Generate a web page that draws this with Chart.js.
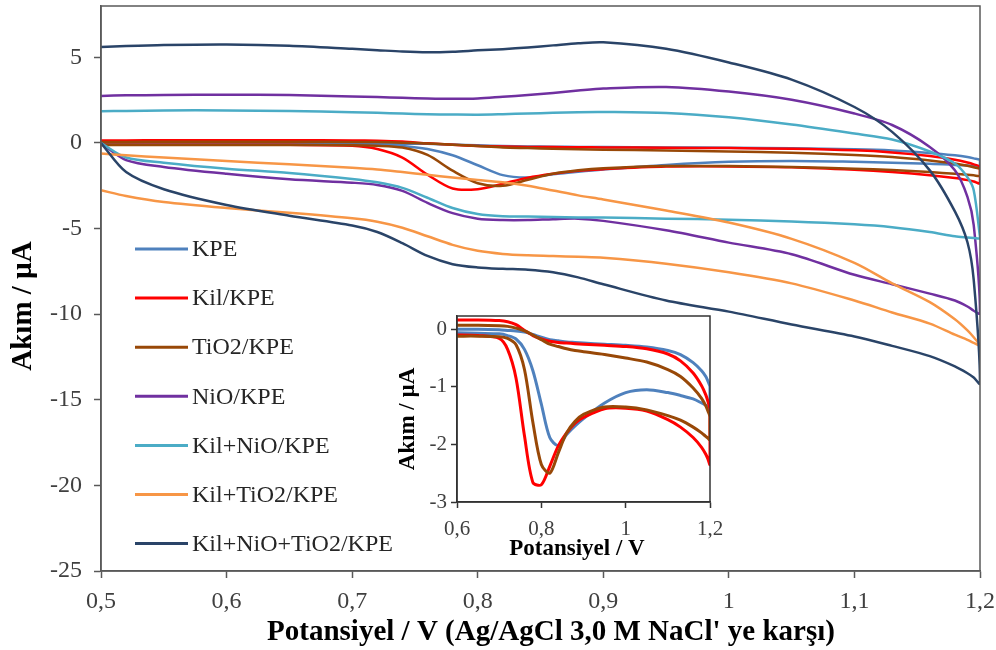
<!DOCTYPE html>
<html>
<head>
<meta charset="utf-8">
<script src="https://cdn.jsdelivr.net/npm/chart.js@4.4.1/dist/chart.umd.min.js"></script>
<style>
  html, body { margin: 0; padding: 0; background: #ffffff; }
  #wrap { position: relative; width: 996px; height: 650px; }
  #main { position: absolute; left: 0; top: 0; }
  #insetBox { position: absolute; left: 380px; top: 300px; width: 360px; height: 270px; }
</style>
</head>
<body>
<div id="wrap">
  <canvas id="main" width="996" height="650"></canvas>
  <div id="insetBox"><canvas id="inset" width="360" height="270"></canvas></div>
</div>
<script>
// ---- Data ----
const potential = [0.5, 0.52, 0.55, 0.6, 0.65, 0.7, 0.72, 0.74, 0.76, 0.78, 0.8, 0.82, 0.84, 0.86, 0.88, 0.9, 0.95, 1.0, 1.05, 1.1, 1.13, 1.16, 1.18, 1.19, 1.195, 1.2];

const seriesNames = ['KPE', 'Kil/KPE', 'TiO2/KPE', 'NiO/KPE', 'Kil+NiO/KPE', 'Kil+TiO2/KPE', 'Kil+NiO+TiO2/KPE'];

// forward (upper) and reverse (lower) branches, µA, on the potential grid
const kpeFwd   = [0.02, 0.02, 0.02, 0.0, 0.0, -0.01, -0.02, -0.03, -0.05, -0.09, -0.14, -0.18, -0.2, -0.22, -0.23, -0.24, -0.26, -0.28, -0.31, -0.37, -0.44, -0.58, -0.72, -0.82, -0.9, -1.0];
const kpeRev   = [-0.05, -0.05, -0.05, -0.06, -0.07, -0.08, -0.11, -0.17, -0.35, -0.72, -1.3, -1.88, -2.02, -1.83, -1.68, -1.55, -1.28, -1.1, -1.05, -1.1, -1.15, -1.21, -1.28, -1.32, -1.34, -1.37];

const kilFwd   = [0.15, 0.15, 0.16, 0.16, 0.16, 0.15, 0.13, 0.08, -0.02, -0.11, -0.17, -0.21, -0.23, -0.24, -0.25, -0.26, -0.28, -0.3, -0.34, -0.43, -0.55, -0.76, -0.98, -1.14, -1.25, -1.4];
const kilRev   = [-0.1, -0.1, -0.1, -0.1, -0.11, -0.16, -0.35, -0.85, -1.85, -2.66, -2.7, -2.38, -2.03, -1.8, -1.63, -1.53, -1.38, -1.37, -1.42, -1.57, -1.7, -1.88, -2.05, -2.17, -2.25, -2.35];

const tio2Fwd  = [0.06, 0.06, 0.07, 0.07, 0.07, 0.06, 0.05, 0.02, -0.03, -0.1, -0.18, -0.26, -0.3, -0.34, -0.37, -0.39, -0.44, -0.5, -0.57, -0.7, -0.82, -1.02, -1.2, -1.33, -1.42, -1.52];
const tio2Rev  = [-0.12, -0.12, -0.12, -0.12, -0.12, -0.13, -0.16, -0.27, -0.7, -1.62, -2.35, -2.5, -2.15, -1.8, -1.6, -1.48, -1.35, -1.35, -1.4, -1.5, -1.58, -1.7, -1.8, -1.86, -1.89, -1.92];

const nioFwd   = [2.75, 2.78, 2.8, 2.82, 2.8, 2.72, 2.68, 2.64, 2.6, 2.58, 2.6, 2.7, 2.8, 2.92, 3.06, 3.18, 3.27, 3.0, 2.52, 1.72, 1.05, -0.23, -1.6, -3.15, -4.8, -9.95];
const nioRev   = [0.0, -1.0, -1.4, -1.8, -2.12, -2.32, -2.45, -2.8, -3.5, -4.1, -4.42, -4.5, -4.5, -4.45, -4.42, -4.55, -5.1, -5.82, -6.5, -7.7, -8.25, -8.8, -9.2, -9.55, -9.8, -9.95];

const kilNioFwd = [1.85, 1.87, 1.9, 1.9, 1.86, 1.8, 1.76, 1.72, 1.68, 1.66, 1.65, 1.68, 1.72, 1.76, 1.8, 1.81, 1.75, 1.5, 1.08, 0.55, 0.2, -0.5, -1.2, -2.0, -2.76, -5.5];
const kilNioRev = [0.0, -0.85, -1.15, -1.5, -1.75, -2.1, -2.3, -2.62, -3.2, -3.8, -4.15, -4.28, -4.3, -4.32, -4.35, -4.36, -4.42, -4.48, -4.58, -4.75, -4.92, -5.2, -5.45, -5.52, -5.55, -5.58];

const kilTio2Fwd = [-0.62, -0.72, -0.85, -1.05, -1.25, -1.45, -1.55, -1.7, -1.86, -2.02, -2.16, -2.3, -2.5, -2.78, -3.06, -3.3, -3.95, -4.65, -5.6, -7.0, -8.2, -9.3, -10.3, -10.95, -11.35, -11.82];
const kilTio2Rev = [-2.76, -3.1, -3.45, -3.8, -4.08, -4.4, -4.6, -4.95, -5.45, -5.95, -6.3, -6.48, -6.56, -6.6, -6.65, -6.7, -7.05, -7.55, -8.2, -9.2, -9.9, -10.55, -11.2, -11.5, -11.68, -11.82];

const allFwd   = [5.6, 5.66, 5.72, 5.75, 5.68, 5.5, 5.42, 5.34, 5.3, 5.33, 5.41, 5.48, 5.58, 5.7, 5.82, 5.88, 5.5, 4.7, 3.7, 2.1, 0.65, -1.6, -4.0, -5.8, -8.0, -14.05];
const allRev   = [0.0, -1.7, -2.7, -3.62, -4.25, -4.82, -5.2, -5.85, -6.6, -7.08, -7.27, -7.35, -7.4, -7.55, -7.85, -8.25, -9.2, -9.85, -10.6, -11.3, -11.85, -12.45, -13.05, -13.45, -13.7, -14.05];

const xTickValues = [0.5, 0.6, 0.7, 0.8, 0.9, 1.0, 1.1, 1.2];
const xTickLabels = ['0,5', '0,6', '0,7', '0,8', '0,9', '1', '1,1', '1,2'];
const yTickValues = [-25, -20, -15, -10, -5, 0, 5];

const insetXTickValues = [0.6, 0.8, 1.0, 1.2];
const insetXTickLabels = ['0,6', '0,8', '1', '1,2'];
const insetYTickValues = [-3, -2, -1, 0];

// ---- Styling ----
const colors = ['#4F81BD', '#FF0000', '#984807', '#7030A0', '#4BACC6', '#F79646', '#2A4468'];
const SERIF = "'Liberation Serif', 'Times New Roman', serif";
Chart.defaults.font.family = SERIF;
Chart.defaults.animation = false;

function loop(fwd, rev) {
  const pts = [];
  potential.forEach((x, i) => pts.push({ x: x, y: fwd[i] }));
  for (let i = potential.length - 1; i >= 0; i--) pts.push({ x: potential[i], y: rev[i] });
  return pts.filter((p, i) => i === 0 || !(p.x === pts[i - 1].x && p.y === pts[i - 1].y));
}

const branches = [
  [kpeFwd, kpeRev], [kilFwd, kilRev], [tio2Fwd, tio2Rev], [nioFwd, nioRev],
  [kilNioFwd, kilNioRev], [kilTio2Fwd, kilTio2Rev], [allFwd, allRev]
];

function makeDatasets(indices, width) {
  return indices.map(i => ({
    label: seriesNames[i],
    data: loop(branches[i][0], branches[i][1]),
    showLine: true,
    borderColor: colors[i],
    backgroundColor: colors[i],
    borderWidth: width,
    pointRadius: 0,
    pointHoverRadius: 0,
    tension: 0.3,
    fill: false,
    order: 10 - i
  }));
}

const frameAndText = {
  id: 'frameAndText',
  afterDatasetsDraw(chart, args, opts) {
    const { ctx, chartArea: a } = chart;
    ctx.save();
    ctx.strokeStyle = opts.frameColor;
    ctx.lineWidth = opts.frameWidth;
    ctx.strokeRect(a.left, a.top, a.right - a.left, a.bottom - a.top);
    // legend
    if (opts.legend) {
      const L = opts.legend;
      chart.data.datasets.forEach((ds, k) => {
        const y = L.y0 + k * L.dy;
        ctx.strokeStyle = ds.borderColor;
        ctx.lineWidth = 3;
        ctx.beginPath();
        ctx.moveTo(L.x0, y);
        ctx.lineTo(L.x1, y);
        ctx.stroke();
        ctx.fillStyle = '#262626';
        ctx.font = L.font;
        ctx.textAlign = 'left';
        ctx.textBaseline = 'middle';
        ctx.fillText(ds.label, L.x1 + 4, y + 1);
      });
    }
    // axis titles
    ctx.fillStyle = '#000000';
    ctx.font = opts.titleFont;
    ctx.textAlign = 'center';
    ctx.textBaseline = 'middle';
    ctx.fillText(opts.xTitle, opts.xTitlePos[0], opts.xTitlePos[1]);
    ctx.font = opts.yTitleFont;
    ctx.translate(opts.yTitlePos[0], opts.yTitlePos[1]);
    ctx.rotate(-Math.PI / 2);
    ctx.fillText(opts.yTitle, 0, 0);
    ctx.restore();
  }
};

const whiteArea = {
  id: 'whiteArea',
  beforeDraw(chart) {
    const { ctx, chartArea: a } = chart;
    ctx.save();
    ctx.fillStyle = '#ffffff';
    ctx.fillRect(a.left, a.top, a.right - a.left, a.bottom - a.top);
    ctx.restore();
  }
};

function axisStyle(color, tickLen, fontSize, pad) {
  return {
    grid: { display: true, drawOnChartArea: false, drawTicks: true, tickLength: tickLen, color: color, tickWidth: 1.5 },
    border: { display: true, color: color, width: 1.5 },
    ticks: { color: '#404040', font: { family: SERIF, size: fontSize }, padding: pad, maxRotation: 0, autoSkip: false }
  };
}

function fixX(h) { return s => { s.height = h; s.paddingLeft = 0; s.paddingRight = 0; }; }
function fixY(w) { return s => { s.width = w; s.paddingTop = 0; s.paddingBottom = 0; }; }

// ---- Main chart ----
const mx = axisStyle('#595959', 7, 24, 9);
const my = axisStyle('#595959', 7, 24, 12);
new Chart(document.getElementById('main'), {
  type: 'scatter',
  data: { datasets: makeDatasets([0, 1, 2, 3, 4, 5, 6], 2.5) },
  options: {
    responsive: false,
    maintainAspectRatio: false,
    layout: { padding: { top: 6, right: 16, left: 0, bottom: 0 } },
    plugins: {
      legend: { display: false },
      tooltip: { enabled: false },
      frameAndText: {
        frameColor: '#595959', frameWidth: 1.5,
        legend: { x0: 135, x1: 188, y0: 249, dy: 49.1, font: "24px " + SERIF },
        titleFont: "bold 29px " + SERIF,
        yTitleFont: "bold 29px " + SERIF,
        xTitle: "Potansiyel / V (Ag/AgCl 3,0 M NaCl' ye karşı)",
        xTitlePos: [551, 633],
        yTitle: 'Akım / µA',
        yTitlePos: [24, 306]
      }
    },
    scales: {
      x: {
        type: 'linear', position: 'bottom', min: 0.5, max: 1.2,
        afterBuildTicks: s => { s.ticks = xTickValues.map(v => ({ value: v })); },
        afterFit: fixX(79),
        grid: mx.grid, border: mx.border,
        ticks: Object.assign({}, mx.ticks, { callback: (v, i) => xTickLabels[i] })
      },
      y: {
        type: 'linear', position: 'left', min: -25, max: 8,
        afterBuildTicks: s => { s.ticks = yTickValues.map(v => ({ value: v })); },
        afterFit: fixY(101),
        grid: my.grid, border: my.border,
        ticks: Object.assign({}, my.ticks, { callback: v => String(v) })
      }
    }
  },
  plugins: [frameAndText]
});

// ---- Inset chart ----
const ix = axisStyle('#333333', 6, 21, 9);
const iy = axisStyle('#333333', 6, 21, 4);
new Chart(document.getElementById('inset'), {
  type: 'scatter',
  data: { datasets: makeDatasets([0, 1, 2], 3) },
  options: {
    responsive: false,
    maintainAspectRatio: false,
    layout: { padding: { top: 16, right: 30, left: 0, bottom: 0 } },
    plugins: {
      legend: { display: false },
      tooltip: { enabled: false },
      frameAndText: {
        frameColor: '#333333', frameWidth: 1.5,
        legend: null,
        titleFont: "bold 23px " + SERIF,
        yTitleFont: "bold 23px " + SERIF,
        xTitle: 'Potansiyel / V',
        xTitlePos: [197, 249],
        yTitle: 'Akım / µA',
        yTitlePos: [28, 119]
      }
    },
    scales: {
      x: {
        type: 'linear', position: 'bottom', min: 0.6, max: 1.2,
        afterBuildTicks: s => { s.ticks = insetXTickValues.map(v => ({ value: v })); },
        afterFit: fixX(68),
        grid: ix.grid, border: ix.border,
        ticks: Object.assign({}, ix.ticks, { callback: (v, i) => insetXTickLabels[i] })
      },
      y: {
        type: 'linear', position: 'left', min: -3, max: 0.23,
        afterBuildTicks: s => { s.ticks = insetYTickValues.map(v => ({ value: v })); },
        afterFit: fixY(77),
        grid: iy.grid, border: iy.border,
        ticks: Object.assign({}, iy.ticks, { callback: v => String(v) })
      }
    }
  },
  plugins: [whiteArea, frameAndText]
});
</script>
</body>
</html>
